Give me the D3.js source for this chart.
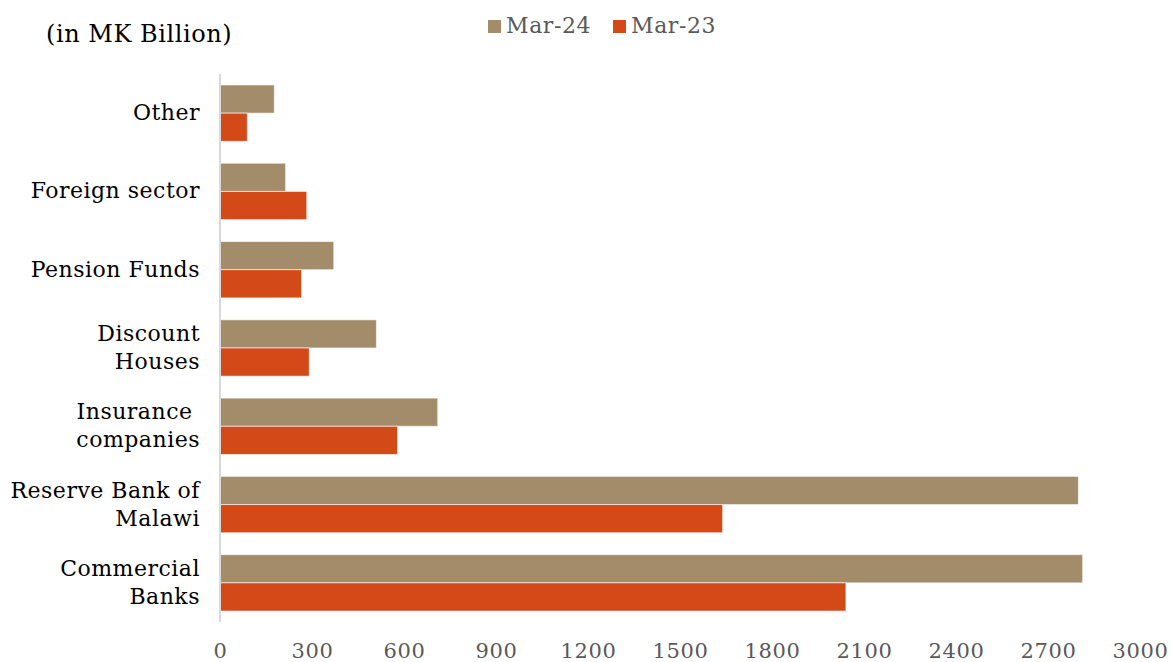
<!DOCTYPE html>
<html>
<head>
<meta charset="utf-8">
<script src="https://cdn.jsdelivr.net/npm/d3@7"></script>
<style>
  html, body { margin: 0; padding: 0; background: #fff; }
  svg { display: block; }
</style>
</head>
<body>
<svg id="chart" width="1173" height="662"></svg>
<script>
// Holders of government securities, MK billion
const categories = [
  ["Other"],
  ["Foreign sector"],
  ["Pension Funds"],
  ["Discount", "Houses"],
  ["Insurance ", "companies"],
  ["Reserve Bank of", "Malawi"],
  ["Commercial", "Banks"]
];
const seriesNames = ["Mar-24", "Mar-23"];
const mar24 = [177, 214, 371, 510, 710, 2799, 2813];
const mar23 = [89, 283, 266, 291, 579, 1639, 2041];
const tickValues = [0, 300, 600, 900, 1200, 1500, 1800, 2100, 2400, 2700, 3000];
const colors = ["#A38C6A", "#D34A18"];

const svg = d3.select("#chart");
const font = "'DejaVu Serif', serif";
const plot = { left: 220, right: 1140, top: 74, bottom: 622 };

const x = d3.scaleLinear().domain([0, 3000]).range([plot.left, plot.right]);
const y = d3.scaleBand()
  .domain(categories.map((c, i) => i))
  .range([plot.top, plot.bottom])
  .paddingInner(0.28)
  .paddingOuter(0.14);
const ySub = d3.scaleBand().domain(seriesNames).range([0, y.bandwidth()]);

// bars
const seriesData = [mar24, mar23];
seriesNames.forEach((name, s) => {
  svg.append("g")
    .selectAll("rect")
    .data(seriesData[s])
    .join("rect")
    .attr("x", x(0))
    .attr("y", (d, i) => y(i) + ySub(name))
    .attr("width", d => x(d) - x(0))
    .attr("height", ySub.bandwidth())
    .attr("fill", colors[s])
    .attr("stroke", "#fff")
    .attr("stroke-opacity", 0.6)
    .attr("stroke-width", 1);
});

// vertical axis line
svg.append("line")
  .attr("x1", x(0)).attr("x2", x(0))
  .attr("y1", plot.top).attr("y2", plot.bottom)
  .attr("stroke", "#d9d9d9").attr("stroke-width", 2);

// x tick labels
const xAxis = d3.axisBottom(x).tickValues(tickValues).tickSize(0).tickPadding(0).tickFormat(d3.format("d"));
const gx = svg.append("g").attr("transform", `translate(0,${plot.bottom + 36})`).call(xAxis);
gx.select(".domain").remove();
gx.selectAll("text")
  .attr("dy", 0)
  .attr("font-family", font)
  .attr("font-size", 21)
  .attr("letter-spacing", 0.6)
  .attr("fill", "#595959");

// category labels
const cat = svg.append("g")
  .selectAll("text")
  .data(categories)
  .join("text")
  .attr("text-anchor", "end")
  .attr("font-family", font)
  .attr("font-size", 22)
  .attr("letter-spacing", 0.5)
  .attr("fill", "#000");
cat.each(function (lines, i) {
  const cy = y(i) + y.bandwidth() / 2;
  const lh = 28;
  const t = d3.select(this);
  lines.forEach((ln, k) => {
    t.append("tspan")
      .attr("x", 200)
      .attr("y", cy + (k - (lines.length - 1) / 2) * lh + 7)
      .attr("xml:space", "preserve")
      .text(ln);
  });
});

// unit label
svg.append("text")
  .attr("x", 46).attr("y", 42)
  .attr("font-family", font)
  .attr("font-size", 24)
  .attr("letter-spacing", 0.55)
  .attr("fill", "#000")
  .text("(in MK Billion)");

// legend
const legendX = [488, 613];
seriesNames.forEach((name, s) => {
  const g = svg.append("g").attr("transform", `translate(${legendX[s]},20)`);
  g.append("rect").attr("width", 13).attr("height", 13).attr("fill", colors[s]);
  g.append("text")
    .attr("x", 18).attr("y", 13)
    .attr("font-family", font)
    .attr("font-size", 22)
    .attr("letter-spacing", 0.6)
    .attr("fill", "#595959")
    .text(name);
});
</script>
</body>
</html>
